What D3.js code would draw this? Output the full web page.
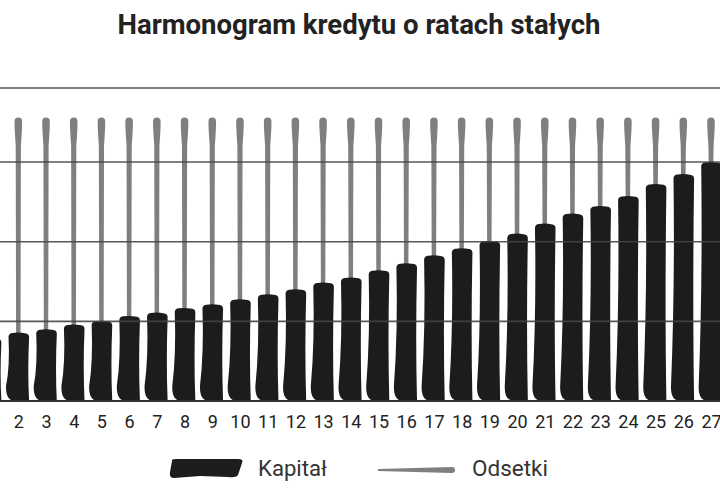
<!DOCTYPE html>
<html>
<head>
<meta charset="utf-8">
<script src="https://cdn.jsdelivr.net/npm/d3@7/dist/d3.min.js"></script>
<style>
  html, body { margin: 0; padding: 0; background: #fff; }
  svg { display: block; }
  text { font-family: Roboto, "Noto Sans", sans-serif; }
</style>
</head>
<body>
<div id="chart"></div>
<script>
// dane
var miesiace = d3.range(1, 28);
var kapital = [778, 849, 891, 950, 995, 1058, 1100, 1158, 1205, 1267, 1330, 1393, 1477, 1540,
	1631, 1719, 1819, 1907, 1999, 2092, 2217, 2343, 2438, 2563, 2714, 2839, 2990];
var odsetki = [2782, 2711, 2669, 2610, 2565, 2502, 2460, 2402, 2355, 2293, 2230, 2167, 2083, 2020,
	1929, 1841, 1741, 1653, 1561, 1468, 1343, 1217, 1122, 997, 846, 721, 570];
var siatka = [1000, 2000, 3000];
var yMax = 3930;
var tytul = "Harmonogram kredytu o ratach stałych";
var legenda = ["Kapitał", "Odsetki"];

var kolory = { kapital: "#1c1c1c", odsetki: "#7f7f7f", siatka: "#454545", tekst: "#222" };

var width = 720, height = 500;
var svg = d3.select("#chart").append("svg")
	.attr("width", width)
	.attr("height", height);

//Skale
var x = d3.scalePoint()
	.domain(miesiace)
	.range([-9.4, 711]);
var y = d3.scaleLinear()
	.domain([0, yMax])
	.range([401, 88]);
var barW = 21.6;

//dopasowanie szerokosci tekstu
function dopasuj(sel, szer) {
	var w = sel.node().getComputedTextLength();
	var fs = parseFloat(sel.attr("font-size"));
	sel.attr("font-size", (fs * szer / w).toFixed(2));
}

//Ksztalt pociagniecia pedzla
function pedzel(x0, w, yt, yb) {
	var x1 = x0 + w, h = yb - yt;
	var p = d3.path();
	p.moveTo(x0 + 1, yt + 3);
	p.quadraticCurveTo(x0 + 1.5, yt, x0 + 5, yt - 0.4);
	p.quadraticCurveTo(x0 + w / 2, yt - 1.4, x1 - 3, yt);
	p.quadraticCurveTo(x1, yt + 0.4, x1, yt + 4);
	p.quadraticCurveTo(x1 - 1.6, yt + h * 0.55, x1, yb);
	p.lineTo(x0 + 7, yb);
	p.quadraticCurveTo(x0 - 2, yb - 1, x0 - 1.5, yb - Math.min(15, h * 0.4));
	p.quadraticCurveTo(x0 + 2.5, yt + h * 0.5, x0 + 1, yt + 3);
	p.closePath();
	return p.toString();
}
function linia(cx, yTop, yBot) {
	var p = d3.path();
	var r = 3.8;
	p.moveTo(cx - 2.2, yBot);
	p.lineTo(cx - 2.6, yTop + 28);
	p.quadraticCurveTo(cx - r, yTop + 12, cx - r, yTop + r);
	p.arc(cx, yTop + r, r, Math.PI, 0);
	p.quadraticCurveTo(cx + r, yTop + 12, cx + 2.6, yTop + 28);
	p.lineTo(cx + 2.2, yBot);
	p.closePath();
	return p.toString();
}

//Odsetki (szare linie)
svg.append("g").selectAll("path.odsetki")
	.data(miesiace)
	.enter()
	.append("path")
	.attr("class", "odsetki")
	.attr("fill", kolory.odsetki)
	.attr("d", function(d, i) {
		return linia(x(d), y(kapital[i] + odsetki[i]), y(kapital[i]) + 6);
	});

//Kapital (czarne slupki)
svg.append("g").selectAll("path.kapital")
	.data(miesiace)
	.enter()
	.append("path")
	.attr("class", "kapital")
	.attr("fill", kolory.kapital)
	.attr("d", function(d, i) {
		return pedzel(x(d) - barW / 2, barW, y(kapital[i]), y(0));
	});

//Siatka
svg.append("g").selectAll("line.grid")
	.data(siatka)
	.enter()
	.append("line")
	.attr("x1", 0).attr("x2", width)
	.attr("y1", function(d) { return y(d); })
	.attr("y2", function(d) { return y(d); })
	.attr("stroke", kolory.siatka)
	.attr("stroke-opacity", 0.9)
	.attr("stroke-width", 1.6);
svg.append("line")
	.attr("x1", 0).attr("x2", width)
	.attr("y1", y(yMax)).attr("y2", y(yMax))
	.attr("stroke", "#555")
	.attr("stroke-width", 1.6);
svg.append("line")
	.attr("x1", 0).attr("x2", width)
	.attr("y1", y(0)).attr("y2", y(0))
	.attr("stroke", "#333")
	.attr("stroke-width", 2.2);

//Os X (etykieta 1 lezy poza kadrem)
var axis = svg.append("g")
	.attr("transform", "translate(0," + y(0) + ")")
	.call(d3.axisBottom(x)
		.tickValues(miesiace.filter(function(d) { return x(d) > 5; }))
		.tickSize(0).tickPadding(14));
axis.select(".domain").remove();
axis.selectAll("text")
	.attr("font-family", "Roboto, sans-serif")
	.attr("font-size", 18)
	.attr("fill", kolory.tekst);

//Tytul
var t = svg.append("text")
	.attr("x", 359)
	.attr("y", 34)
	.attr("text-anchor", "middle")
	.attr("font-family", "'Open Sans', sans-serif")
	.attr("font-size", 22)
	.attr("font-weight", 700)
	.attr("fill", kolory.tekst)
	.text(tytul);
dopasuj(t, 483);

//Legenda
var leg = svg.append("g");
leg.append("path")
	.attr("fill", kolory.kapital)
	.attr("d", "M172,461 Q171,459 176,459 L238,459 Q244,459 242,463 L238,475 Q236,478 228,477 L200,476 L174,478 Q169,478 170,472 Z");
var l1 = leg.append("text")
	.attr("x", 258).attr("y", 476)
	.attr("font-size", 19)
	.attr("fill", "#333")
	.text(legenda[0]);
dopasuj(l1, 69);
leg.append("path")
	.attr("fill", kolory.odsetki)
	.attr("d", "M378,469 L452,467 A3,3 0 0 1 452,473 L378,471 Z");
var l2 = leg.append("text")
	.attr("x", 472).attr("y", 476)
	.attr("font-size", 19)
	.attr("fill", "#333")
	.text(legenda[1]);
dopasuj(l2, 76);
</script>
</body>
</html>
